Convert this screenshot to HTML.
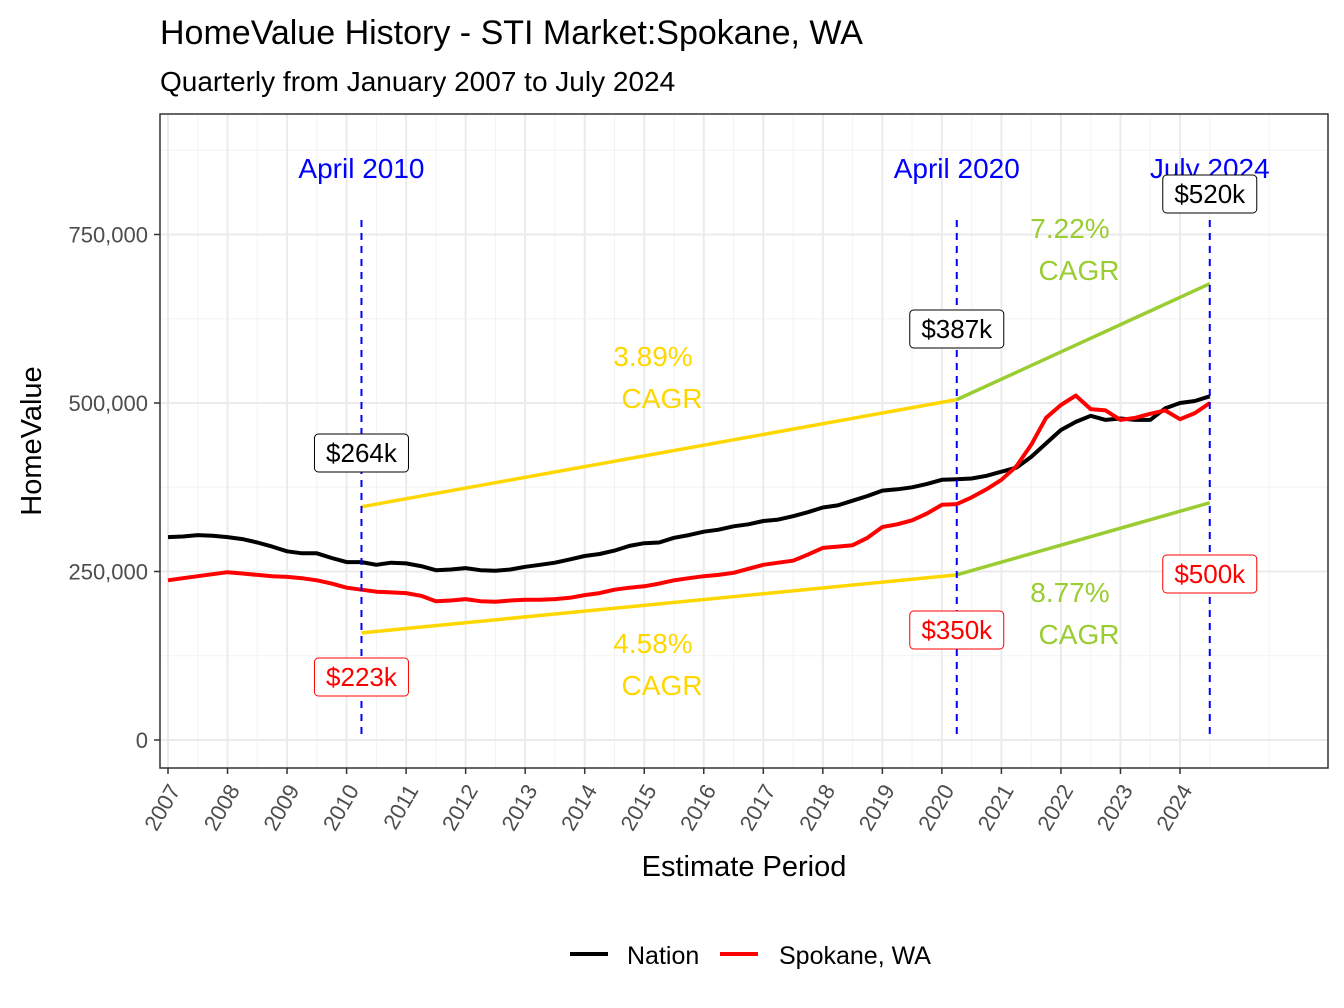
<!DOCTYPE html>
<html><head><meta charset="utf-8">
<style>
body{margin:0;background:#fff;}
svg{display:block;font-family:"Liberation Sans",Arial,sans-serif;}
</style></head>
<body>
<svg id="chart" width="1344" height="1008" xmlns="http://www.w3.org/2000/svg">
<text x="160" y="44" font-size="34" fill="#000">HomeValue History - STI Market:Spokane, WA</text>
<text x="160" y="91" font-size="28" fill="#000">Quarterly from January 2007 to July 2024</text>
<g id="plot"></g>
<text x="744" y="876" font-size="29" text-anchor="middle">Estimate Period</text>
<text transform="translate(41,441) rotate(-90)" font-size="29" text-anchor="middle">HomeValue</text>
<g>
<line x1="570" y1="954" x2="608" y2="954" stroke="#000" stroke-width="4"/>
<text x="627" y="964" font-size="25">Nation</text>
<line x1="720" y1="954" x2="758" y2="954" stroke="#f00" stroke-width="4"/>
<text x="779" y="964" font-size="25">Spokane, WA</text>
</g>
</svg>
<script>
const years=[2007,2008,2009,2010,2011,2012,2013,2014,2015,2016,2017,2018,2019,2020,2021,2022,2023,2024];
const yTicks=[0,250000,500000,750000];
const yTickLabels=["0","250,000","500,000","750,000"];
const nation=[301,302,304,303, 301,298,293,287, 280,277,277,270, 264,264,260,263, 262,258,252,253, 255,252,251,253, 257,260,263,268, 273,276,281,288, 292,293,300,304, 309,312,317,320, 325,327,332,338, 345,348,355,362, 370,372,375,380, 386,387,388,392, 398,404,420,440, 460,472,481,475, 477,475,475,492, 500,503,510,520].slice(0,71);
const spokane=[237,240,243,246, 249,247,245,243, 242,240,237,232, 226,223,220,219, 218,214,206,207, 209,206,205,207, 208,208,209,211, 215,218,223,226, 228,232,237,240, 243,245,248,254, 260,263,266,275, 285,287,289,300, 316,320,326,336, 349,350,360,372, 386,406,438,478, 497,511,491,489, 475,478,484,489, 476,485,500];
const startYear=2007;
const cagrUpper=[[2010.25,346000],[2020.25,505000],[2024.5,677000]];
const cagrLower=[[2010.25,159000],[2020.25,245000],[2024.5,352000]];
const eventDates=[2010.25,2020.25,2024.5];
const eventNames=["April 2010","April 2020","July 2024"];
const nationLabels=["$264k","$387k","$520k"];
const spokaneLabels=["$223k","$350k","$500k"];
const cagrTexts=["3.89%","7.22%","4.58%","8.77%"];

const L=160,R=1328,T=114,B=768;
const X=y=>168+(y-2007)*(1012/17);
const Y=v=>740-v*(168.5/250000);
const NS="http://www.w3.org/2000/svg";
const g=document.getElementById('plot');
function mk(t,a,p){const e=document.createElementNS(NS,t);for(const k in a)e.setAttribute(k,a[k]);(p||g).appendChild(e);return e;}

let e=mk('rect',{x:L,y:T,width:R-L,height:B-T,fill:'#fff'});


for(let y=2006.5;y<2027;y+=1){const x=X(y);if(x>L&&x<R){e=mk('line',{x1:x,x2:x,y1:T,y2:B,stroke:'#f3f3f3','stroke-width':1});}}
for(let v=125000;v<900000;v+=250000){const y=Y(v);if(y>T){e=mk('line',{x1:L,x2:R,y1:y,y2:y,stroke:'#f3f3f3','stroke-width':1});}}
years.forEach(yr=>{const x=X(yr);
e=mk('line',{x1:x,x2:x,y1:T,y2:B,stroke:'#ebebeb','stroke-width':2});
e=mk('line',{x1:x,x2:x,y1:B,y2:B+6,stroke:'#333','stroke-width':1.5});
e=mk('text',{transform:`translate(${x+13},${B+22}) rotate(-60)`,'font-size':22,fill:'#4d4d4d','text-anchor':'end'});e.textContent=yr;});
yTicks.forEach((v,i)=>{const y=Y(v);
e=mk('line',{x1:L,x2:R,y1:y,y2:y,stroke:'#ebebeb','stroke-width':2});
e=mk('line',{x1:L-6,x2:L,y1:y,y2:y,stroke:'#333','stroke-width':1.5});
e=mk('text',{x:L-12,y:y+8,'font-size':22,fill:'#4d4d4d','text-anchor':'end'});e.textContent=yTickLabels[i];});
function seg(pts,i,col){return mk('line',{x1:X(pts[i][0]),y1:Y(pts[i][1]),x2:X(pts[i+1][0]),y2:Y(pts[i+1][1]),stroke:col,'stroke-width':3.5});}
e=seg(cagrUpper,0,'#ffd700');
e=seg(cagrUpper,1,'#9acd32');
e=seg(cagrLower,0,'#ffd700');
e=seg(cagrLower,1,'#9acd32');
function line(arr,col,name){const d=arr.map((v,i)=>(i?'L':'M')+X(startYear+i*0.25).toFixed(1)+','+Y(v*1000).toFixed(1)).join('');
const p=mk('path',{d:d,fill:'none',stroke:col,'stroke-width':4,'stroke-linejoin':'round'});}
line(nation,'#000','nation-line');line(spokane,'#f00','spokane-line');
eventDates.forEach((d,i)=>{const x=X(d);
e=mk('line',{x1:x,x2:x,y1:220,y2:740,stroke:'#00f','stroke-width':2,'stroke-dasharray':'7,6'});
e=mk('text',{x:x,y:178,'font-size':28,fill:'#00f','text-anchor':'middle'});e.textContent=eventNames[i];});
const nPos=[[2010.25,453],[2020.25,329],[2024.5,194]];
const sPos=[[2010.25,677],[2020.25,630],[2024.5,574]];
function box(txt,d,cy,col,name){const x=X(d),w=94,h=38;
const gg=mk('g',{});
mk('rect',{x:x-w/2,y:cy-h/2,width:w,height:h,rx:4,fill:'#fff',stroke:col,'stroke-width':1},gg);
const t=mk('text',{x:x,y:cy+9,'font-size':26,fill:col,'text-anchor':'middle'},gg);t.textContent=txt;}
nationLabels.forEach((t,i)=>box(t,nPos[i][0],nPos[i][1],'#000','nation-value-label'));
spokaneLabels.forEach((t,i)=>box(t,sPos[i][0],sPos[i][1],'#f00','spokane-value-label'));
const cPos=[[653,366,'#ffd700'],[1070,238,'#9acd32'],[653,653,'#ffd700'],[1070,602,'#9acd32']];
cagrTexts.forEach((t,i)=>{const [x,y,c]=cPos[i];
e=mk('text',{x:x,y:y,'font-size':28,fill:c,'text-anchor':'middle'});e.textContent=t;
e=mk('text',{x:x+9,y:y+42,'font-size':28,fill:c,'text-anchor':'middle'});e.textContent='CAGR';});
e=mk('rect',{x:L,y:T,width:R-L,height:B-T,fill:'none',stroke:'#333','stroke-width':1.5});


</script>
</body></html>
